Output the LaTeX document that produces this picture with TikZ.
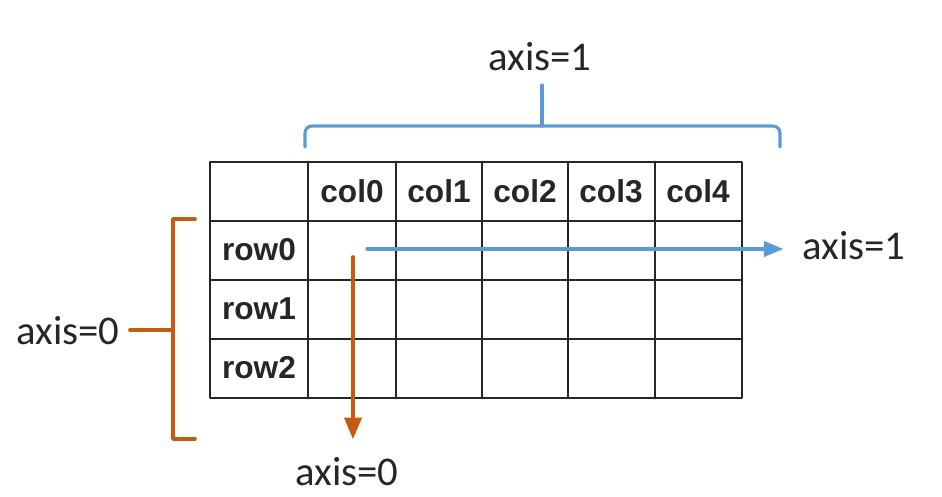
\documentclass[tikz,border=0pt]{standalone}
\usepackage{fontspec}
\setmainfont{Carlito}
\newfontfamily\headfont{Liberation Sans}
\usetikzlibrary{arrows}
\definecolor{axisblue}{RGB}{91,155,213}
\definecolor{axisorange}{RGB}{197,90,17}
\tikzset{
  gridline/.style={line width=2pt,black!85},
  head/.style={font=\headfont\bfseries\fontsize{22.5}{22.5}\selectfont,text=black!85,inner sep=0pt},
  axislabel/.style={font=\fontsize{29}{29}\selectfont,text=black!85,inner sep=0pt},
  blueline/.style={line width=2.2pt,axisblue},
  orangeline/.style={line width=2.6pt,axisorange}
}
\begin{document}
\begin{tikzpicture}[x=0.025cm,y=-0.025cm,line cap=round,line join=round,>=triangle 45]
    \useasboundingbox (0,0) rectangle (942,496);
    % table
    \draw [gridline] (210,162) rectangle (742,398);
    \draw [gridline] (210,221)-- (742,221);
    \draw [gridline] (210,280)-- (742,280);
    \draw [gridline] (210,339)-- (742,339);
    \draw [gridline] (308,162)-- (308,398);
    \draw [gridline] (396,162)-- (396,398);
    \draw [gridline] (482,162)-- (482,398);
    \draw [gridline] (568,162)-- (568,398);
    \draw [gridline] (655,162)-- (655,398);
    \node [head] (col0) at (352,191) {col0};
    \node [head] (col1) at (439,191) {col1};
    \node [head] (col2) at (525,191) {col2};
    \node [head] (col3) at (611,191) {col3};
    \node [head] (col4) at (698,191) {col4};
    \node [head] (row0) at (259,250) {row0};
    \node [head] (row1) at (259,309) {row1};
    \node [head] (row2) at (259,368) {row2};
    % axis=1 brace
    \coordinate (braceL) at (305,147);
    \coordinate (braceM) at (542,126);
    \coordinate (braceR) at (780,147);
    \node [axislabel] (toplab) at (540,57) {axis=1};
    \draw [blueline,rounded corners=5pt] (braceL) |- (braceM) -| (braceR);
    \draw [blueline] (braceM) -- (braceM |- 0,85);
    % axis=0 bracket
    \coordinate (brackT) at (195,219);
    \coordinate (brackB) at (195,439);
    \coordinate (brackM) at (173,330);
    \node [axislabel] (leftlab) at (68,331) {axis=0};
    \draw [orangeline] (brackT) -- (173,219) -- (173,439) -- (brackB);
    \draw [orangeline] (brackM) -- (130,330);
    % arrows
    \coordinate (hstart) at (367,249);
    \coordinate (hend) at (783,249);
    \node [axislabel] (rightlab) at (854,246) {axis=1};
    \draw [blueline,->] (hstart) -- (hend);
    \coordinate (vstart) at (353,257);
    \coordinate (vend) at (353,439);
    \node [axislabel] (bottomlab) at (347,472) {axis=0};
    \draw [orangeline,->] (vstart) -- (vend);
\end{tikzpicture}
\end{document}
